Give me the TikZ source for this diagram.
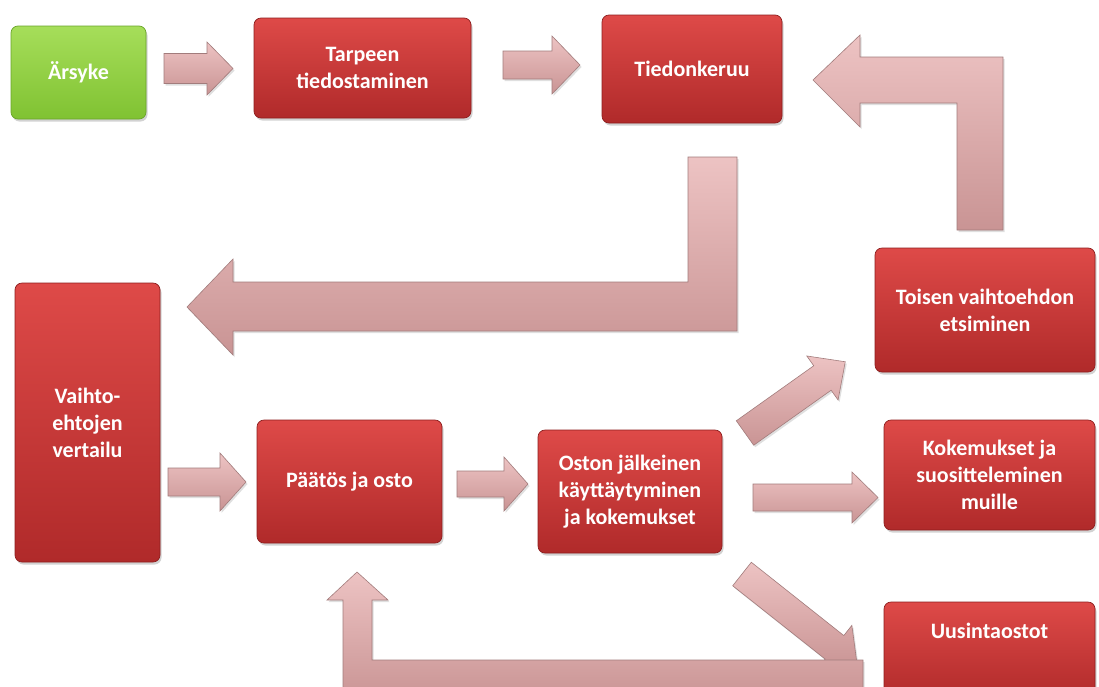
\documentclass[tikz,border=0pt]{standalone}
\usepackage{fontspec}
\setmainfont{Carlito}
\usetikzlibrary{shadows}
\definecolor{redtop}{HTML}{DE4A48}
\definecolor{redbot}{HTML}{B02A2A}
\definecolor{redline}{HTML}{8E1E1E}
\definecolor{greentop}{HTML}{A6DE5A}
\definecolor{greenbot}{HTML}{80C232}
\definecolor{greenline}{HTML}{6AA52A}
\definecolor{arrtop}{HTML}{EDC3C3}
\definecolor{arrbot}{HTML}{C99494}
\definecolor{arrline}{HTML}{A27C7C}
\tikzset{
  boxbase/.style={rounded corners=7pt, line width=0.7pt, inner sep=0pt, outer sep=0pt,
    align=center, text=white, font=\bfseries\fontsize{22}{27}\selectfont,
    drop shadow={opacity=0.35, shadow xshift=1.5pt, shadow yshift=-2.5pt}},
  redbox/.style={boxbase, draw=redline, top color=redtop, bottom color=redbot},
  greenbox/.style={boxbase, draw=greenline, top color=greentop, bottom color=greenbot},
  barrow/.style={draw=arrline, line width=0.6pt, top color=arrtop, bottom color=arrbot,
    line join=miter,
    drop shadow={opacity=0.25, shadow xshift=1.5pt, shadow yshift=-2pt}},
}
\begin{document}
\begin{tikzpicture}[x=1pt,y=-1pt]
\path[use as bounding box] (0,0) rectangle (1099,686);
\clip (0,0) rectangle (1099,686);
\fill[white] (0,0) rectangle (1099,686);

% boxes
\node[greenbox, minimum width=135, minimum height=93] (A) at (78.5,72.5) {Ärsyke};
\node[redbox, minimum width=217, minimum height=100] (B) at (362.5,68) {Tarpeen\\tiedostaminen};
\node[redbox, minimum width=180, minimum height=108] (C) at (692,69) {Tiedonkeruu};
\node[redbox, minimum width=145, minimum height=279] (D) at (87.5,422.5) {Vaihto-\\ehtojen\\vertailu};
\node[redbox, minimum width=185, minimum height=123] (E) at (349.5,481.5) {Päätös ja osto};
\node[redbox, minimum width=184, minimum height=123] (F) at (630,491.5) {Oston jälkeinen\\käyttäytyminen\\ja kokemukset};
\node[redbox, minimum width=220, minimum height=124] (G) at (985,310) {Toisen vaihtoehdon\\etsiminen};
\node[redbox, minimum width=211, minimum height=110] (H) at (989.5,475) {Kokemukset ja\\suositteleminen\\muille};
\node[redbox, minimum width=211, minimum height=98, text depth=40pt] (I) at (989.5,651) {Uusintaostot};

% straight arrows
\draw[barrow] (164,53.5) -- (207,53.5) -- (207,42) -- (233,68.5) -- (207,95) -- (207,83.5) -- (164,83.5) -- cycle;
\draw[barrow] (503,51) -- (552,51) -- (552,36) -- (580,65) -- (552,94) -- (552,79) -- (503,79) -- cycle;
\draw[barrow] (168,468) -- (220,468) -- (220,453) -- (246,482) -- (220,511) -- (220,496) -- (168,496) -- cycle;
\draw[barrow] (457,471) -- (504,471) -- (504,457) -- (528,484) -- (504,511) -- (504,497) -- (457,497) -- cycle;
\draw[barrow] (753,484) -- (852,484) -- (852,472) -- (878,497.5) -- (852,523) -- (852,511) -- (753,511) -- cycle;

% diagonal arrows
\begin{scope}[shift={(745,433)}, rotate=35.4]
\draw[barrow] (0,-15) -- (95,-15) -- (95,-27) -- (123,0) -- (95,27) -- (95,15) -- (0,15) -- cycle;
\end{scope}
\begin{scope}[shift={(742,574)}, rotate=-38.4]
\draw[barrow] (0,-15) -- (118,-15) -- (118,-28) -- (147,0) -- (118,28) -- (118,15) -- (0,15) -- cycle;
\end{scope}

% L-shaped arrows
\draw[barrow] (688,157) -- (737,157) -- (737,331) -- (233,331) -- (233,355) -- (187,307) -- (233,259) -- (233,282) -- (688,282) -- cycle;
\draw[barrow] (1003,230) -- (957,230) -- (957,103) -- (860,103) -- (860,127) -- (813,80) -- (860,35) -- (860,57) -- (1003,57) -- cycle;
\draw[barrow] (863,660) -- (863,700) -- (343,700) -- (343,600) -- (327,600) -- (357,572) -- (388,600) -- (372,600) -- (372,660) -- cycle;
\end{tikzpicture}
\end{document}
